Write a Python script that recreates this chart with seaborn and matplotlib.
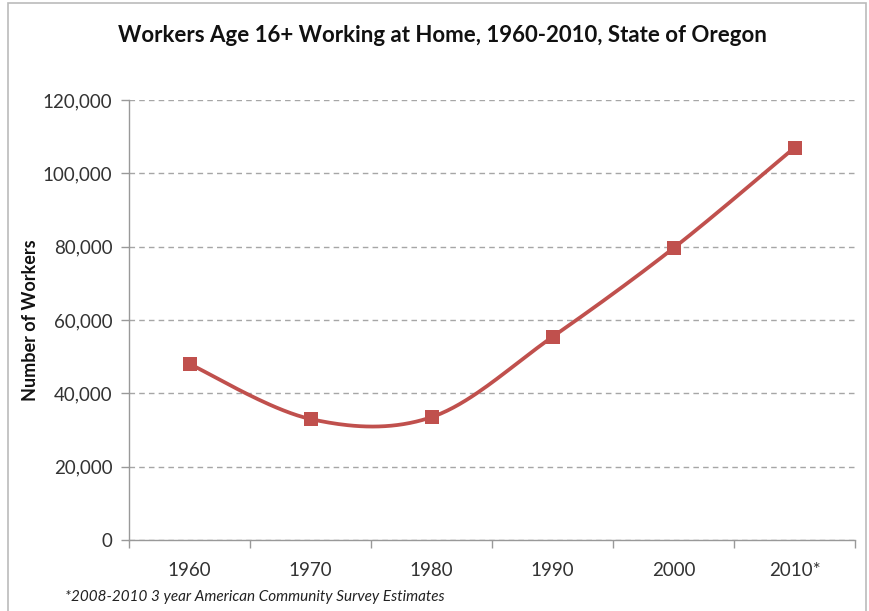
import numpy as np
import pandas as pd
import matplotlib
matplotlib.use("Agg")
import matplotlib.pyplot as plt
import seaborn as sns
from matplotlib.patches import Rectangle
from matplotlib.ticker import FuncFormatter, FixedLocator

years = ["1960", "1970", "1980", "1990", "2000", "2010*"]
workers = [48000, 33000, 33500, 55400, 79600, 107000]
title = "Workers Age 16+ Working at Home, 1960-2010, State of Oregon"
ylabel = "Number of Workers"
footnote = "*2008-2010 3 year American Community Survey Estimates"

sns.set_theme(style="white")
plt.rcParams['font.family'] = ['Lato', 'DejaVu Sans']

color = "#C0504D"

df = pd.DataFrame({"x": np.arange(len(years)), "y": workers})

# Catmull-Rom smoothing (like Excel's smoothed line) between data points
def smooth(xs, ys, n=40):
    xs = np.asarray(xs, float); ys = np.asarray(ys, float)
    px = np.concatenate([[xs[0]], xs, [xs[-1]]])
    py = np.concatenate([[ys[0]], ys, [ys[-1]]])
    outx, outy = [], []
    for i in range(1, len(px) - 2):
        p0, p1, p2, p3 = (np.array([px[j], py[j]]) for j in (i - 1, i, i + 1, i + 2))
        c1 = p1 + (p2 - p0) / 6
        c2 = p2 - (p3 - p1) / 6
        t = np.linspace(0, 1, n)[:, None]
        b = (1 - t) ** 3 * p1 + 3 * (1 - t) ** 2 * t * c1 + 3 * (1 - t) * t ** 2 * c2 + t ** 3 * p2
        outx.extend(b[:, 0]); outy.extend(b[:, 1])
    return np.array(outx), np.array(outy)

sx, sy = smooth(df["x"], df["y"])
curve = pd.DataFrame({"x": sx, "y": sy})

fig = plt.figure(figsize=(8.69, 6.11), dpi=100)
ax = fig.add_axes([129 / 869, 1 - 540 / 611, (855 - 129) / 869, 440 / 611])

sns.lineplot(data=curve, x="x", y="y", ax=ax, color=color, linewidth=2.7, sort=False, estimator=None)
sns.scatterplot(data=df, x="x", y="y", ax=ax, color=color, marker="s", s=110, edgecolor=color, linewidth=0, zorder=5)

ax.set_xlim(-0.5, len(years) - 0.5)
ax.set_ylim(0, 120000)
ax.set_yticks(np.arange(0, 120001, 20000))
ax.yaxis.set_major_formatter(FuncFormatter(lambda v, p: f"{int(v):,}"))
ax.set_xticks(np.arange(len(years)))
ax.set_xticklabels(years)
ax.xaxis.set_minor_locator(FixedLocator(np.arange(-0.5, len(years), 1.0)))

ax.grid(axis="y", color="#a6a6a6", linestyle=(0, (4, 3)), linewidth=1)
ax.set_axisbelow(True)
for s in ["top", "right"]:
    ax.spines[s].set_visible(False)
for s in ["left", "bottom"]:
    ax.spines[s].set_color("#999999")
    ax.spines[s].set_linewidth(1)

ax.tick_params(axis="y", which="major", length=6, width=1, color="#999999", direction="out",
               labelsize=13.5, labelcolor="#333333", pad=6, left=True)
ax.tick_params(axis="x", which="major", length=0, labelsize=13.5, labelcolor="#333333", pad=16)
ax.tick_params(axis="x", which="minor", length=6, width=1, color="#999999", direction="out", bottom=True)

ax.set_xlabel("")
ax.set_ylabel(ylabel, fontsize=13, fontweight="bold", color="#111111")
ax.yaxis.set_label_coords((39 - 129) / 726, 0.5)

fig.text(442 / 869, 1 - 36 / 611, title, ha="center", va="center", fontsize=16, fontweight="bold", color="#111111")
fig.text(65 / 869, 1 - 597 / 611, footnote, ha="left", va="center", fontsize=11, style="italic", color="#222222")

fig.patches.append(Rectangle((8 / 869, -0.01), (866 - 8) / 869, 1 - 3 / 611 + 0.01, transform=fig.transFigure,
                             fill=False, edgecolor="#bbbbbb", linewidth=1.2))

fig.savefig("out.png", dpi=100)
